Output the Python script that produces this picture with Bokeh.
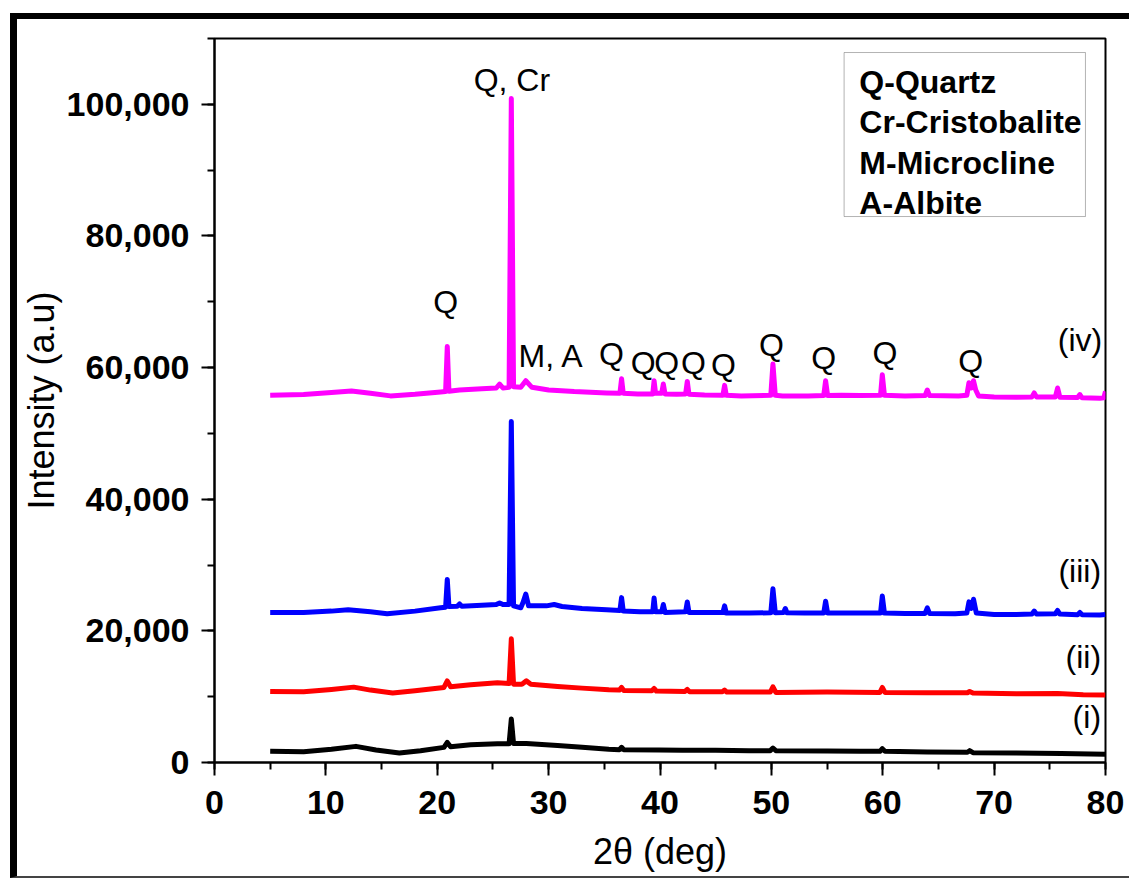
from bokeh.plotting import figure
from bokeh.models import Range1d, SingleIntervalTicker, NumeralTickFormatter, Label, BoxAnnotation
from bokeh.embed import file_html
from bokeh.resources import INLINE

# ---------------- data (2theta in deg, intensity in a.u.) ----------------
x_iv = [5.0, 8.0, 10.5, 12.3, 14.0, 15.8, 18.0, 20.3, 20.75, 20.9, 21.05, 22.0, 24.0, 25.3, 25.6, 25.9,
        26.45, 26.65, 26.85, 27.5, 27.95, 28.5, 30.0, 32.3, 35.2, 36.4, 36.55, 36.7, 38.0, 39.35, 39.47,
        39.6, 40.15, 40.3, 40.45, 41.5, 42.3, 42.45, 42.6, 44.0, 45.65, 45.8, 45.95, 47.3, 49.95, 50.14,
        50.35, 51.0, 53.3, 54.7, 54.87, 55.05, 56.3, 58.0, 59.8, 59.96, 60.15, 62.0, 63.8, 64.0, 64.2,
        66.8, 67.55, 67.74, 67.95, 68.15, 68.35, 68.6, 70.0, 72.0, 73.4, 73.6, 73.8, 75.5, 75.7, 75.9,
        77.5, 77.7, 77.9, 79.5, 79.85, 80.0]
y_iv = [55800, 55900, 56200, 56450, 56100, 55700, 55950, 56300, 56350, 63200, 56400, 56600, 56800, 56900, 57500, 56900,
        57000, 100900, 57100, 57000, 58000, 57000, 56600, 56350, 56150, 56100, 58300, 56100, 56000, 56000, 58000,
        56100, 56100, 57500, 56000, 55950, 56000, 57900, 55950, 55850, 55800, 57300, 55800, 55700, 55800, 60550,
        55800, 55700, 55700, 55750, 58000, 55750, 55800, 55750, 55800, 58900, 55800, 55700, 55750, 56600, 55750,
        55700, 55800, 57700, 56900, 58000, 56600, 55700, 55550, 55500, 55550, 56150, 55550, 55550, 56900, 55500,
        55450, 55900, 55400, 55350, 55400, 56400]

x_iii = [5.0, 8.0, 10.5, 12.0, 14.0, 15.5, 18.0, 20.3, 20.75, 20.9, 21.05, 21.8, 22.0, 22.2, 24.0, 25.3,
         25.6, 25.9, 26.45, 26.65, 26.85, 27.5, 27.7, 27.95, 28.2, 29.8, 30.5, 31.2, 33.0, 35.2, 36.4, 36.55,
         36.7, 38.2, 39.35, 39.47, 39.6, 40.15, 40.3, 40.45, 42.3, 42.45, 42.6, 44.2, 45.65, 45.8, 45.95,
         48.0, 49.95, 50.14, 50.35, 51.1, 51.25, 51.4, 53.0, 54.7, 54.87, 55.05, 57.0, 59.8, 59.96, 60.15,
         62.0, 63.8, 64.0, 64.2, 66.5, 67.55, 67.74, 67.95, 68.15, 68.4, 70.0, 72.0, 73.4, 73.6, 73.8,
         75.5, 75.7, 75.9, 77.5, 77.7, 77.9, 79.5, 80.0]
y_iii = [22800, 22800, 23000, 23200, 22900, 22600, 23000, 23500, 23600, 27800, 23700, 23750, 24100, 23750, 23900, 24000,
         24250, 24000, 24000, 51800, 23800, 23500, 24300, 25600, 23800, 23800, 24000, 23700, 23400, 23200, 23100, 25050,
         23000, 22900, 22900, 25000, 22900, 22900, 24000, 22800, 22900, 24400, 22800, 22800, 22800, 23800, 22700,
         22700, 22750, 26400, 22750, 22800, 23400, 22750, 22700, 22700, 24500, 22700, 22700, 22700, 25300, 22700,
         22650, 22650, 23500, 22650, 22600, 22700, 24400, 23400, 24800, 22700, 22500, 22500, 22550, 23000, 22550,
         22600, 23100, 22550, 22450, 22800, 22450, 22400, 22500]

x_ii = [5.0, 8.0, 10.5, 12.5, 14.0, 16.0, 18.0, 20.6, 20.9, 21.2, 23.0, 25.4, 26.45, 26.65, 26.85, 27.6,
        28.0, 28.4, 30.8, 33.0, 35.4, 36.35, 36.55, 36.75, 39.27, 39.47, 39.67, 42.25, 42.45, 42.65, 45.6,
        45.8, 46.0, 49.9, 50.14, 50.4, 55.0, 59.75, 59.96, 60.2, 64.0, 67.6, 67.8, 68.1, 72.0, 75.7, 78.0, 80.0]
y_ii = [10800, 10750, 11100, 11450, 11000, 10550, 10900, 11400, 12400, 11500, 11800, 12100, 12000, 18800, 11900, 11900,
        12400, 11900, 11550, 11300, 11050, 11000, 11400, 10950, 10900, 11250, 10850, 10800, 11100, 10750, 10750,
        11000, 10700, 10700, 11500, 10650, 10700, 10650, 11400, 10650, 10600, 10600, 10800, 10550, 10450, 10500, 10300, 10250]

x_i = [5.0, 8.0, 10.5, 12.7, 14.5, 16.6, 18.5, 20.6, 20.9, 21.2, 23.0, 25.4, 26.45, 26.65, 26.85, 28.0,
       30.8, 33.0, 35.4, 36.35, 36.55, 36.75, 39.9, 42.0, 45.0, 48.0, 49.9, 50.14, 50.4, 55.0, 58.0,
       59.75, 59.96, 60.2, 64.0, 67.6, 67.8, 68.1, 72.0, 76.0, 80.0]
y_i = [1700, 1650, 2000, 2450, 1900, 1450, 1800, 2300, 3050, 2400, 2700, 2850, 2850, 6600, 2900, 2900,
       2600, 2300, 2000, 1950, 2300, 1950, 1900, 1850, 1850, 1800, 1800, 2200, 1800, 1750, 1700,
       1700, 2100, 1700, 1600, 1550, 1800, 1500, 1450, 1350, 1250]

series_names = ["(i)", "(ii)", "(iii)", "(iv)"]
series_colors = ["#000000", "#ff0000", "#0000ff", "#ff00ff"]

# peak annotations: text, 2theta, intensity (text baseline)
peak_texts = ["Q, Cr", "Q", "M, A", "Q", "Q", "Q", "Q", "Q", "Q", "Q", "Q", "Q"]
peak_x = [26.7, 20.75, 27.3, 35.65, 38.5, 40.6, 43.0, 45.7, 50.0, 54.7, 60.2, 67.9]
peak_y = [103700, 70000, 61800, 62100, 60700, 60700, 60700, 60400, 63400, 61500, 62200, 61000]

# series tags at the right side: 2theta of right edge, intensity (text baseline)
tag_x = [79.6, 79.6, 79.6, 79.7]
tag_y = [6900, 16100, 29100, 64200]

legend_items = ["Q-Quartz", "Cr-Cristobalite", "M-Microcline", "A-Albite"]

# ---------------- figure ----------------
FONT = "Liberation Sans"
p = figure(width=1119, height=865, output_backend="svg", toolbar_location=None,
           x_range=Range1d(0, 80), y_range=Range1d(0, 110000),
           min_border_left=195, min_border_right=31, min_border_top=19, min_border_bottom=122)
p.styles = {"margin-left": "10px", "margin-top": "13px",
            "border-left": "7px solid black", "border-top": "6px solid black",
            "border-bottom": "2px solid #444444"}
p.background_fill_color = "white"
p.border_fill_color = "white"
p.grid.visible = False
p.outline_line_color = "black"
p.outline_line_width = 2

p.xaxis.ticker = SingleIntervalTicker(interval=10, num_minor_ticks=2)
p.yaxis.ticker = SingleIntervalTicker(interval=20000, num_minor_ticks=2)
p.yaxis.formatter = NumeralTickFormatter(format="0,0")
for ax in (p.xaxis, p.yaxis):
    ax.axis_line_width = 2
    ax.major_tick_line_width = 2
    ax.minor_tick_line_width = 2
    ax.major_tick_in = 0
    ax.major_tick_out = 13
    ax.minor_tick_in = 0
    ax.minor_tick_out = 7
    ax.major_label_text_font = FONT
    ax.major_label_text_font_style = "bold"
    ax.major_label_text_font_size = "34px"
    ax.major_label_text_color = "black"
    ax.major_label_text_line_height = 1.0
    ax.axis_label_text_font = FONT
    ax.axis_label_text_font_style = "normal"
    ax.axis_label_text_font_size = "36px"
    ax.axis_label_text_color = "black"
    ax.axis_label_text_line_height = 1.0
p.xaxis.axis_label = "2θ (deg)"
p.yaxis.axis_label = "Intensity (a.u)"
p.xaxis.major_label_standoff = 15
p.yaxis.major_label_standoff = 12
p.xaxis.axis_label_standoff = 14
p.yaxis.axis_label_standoff = 2

xs = [x_i, x_ii, x_iii, x_iv]
ys = [y_i, y_ii, y_iii, y_iv]
for xv, yv, c in zip(xs, ys, series_colors):
    p.line(xv, yv, line_color=c, line_width=5, line_join="round")

for t, xv, yv in zip(peak_texts, peak_x, peak_y):
    p.add_layout(Label(x=xv, y=yv, text=t, text_font=FONT, text_font_size="32px",
                       text_align="left" if t == "M, A" else "center",
                       text_baseline="alphabetic", text_color="black"))

for t, xv, yv in zip(series_names, tag_x, tag_y):
    p.add_layout(Label(x=xv, y=yv, text=t, text_font=FONT, text_font_size="32px",
                       text_align="right", text_baseline="alphabetic", text_color="black"))

# legend box
p.add_layout(BoxAnnotation(left=56.53, right=78.2, top=107870, bottom=82950,
                           fill_alpha=0, line_color="black", line_width=1))
for k, t in enumerate(legend_items):
    p.add_layout(Label(x=57.9, y=103400 - k * 6120, text=t, text_font=FONT, text_font_size="32px",
                       text_font_style="bold", text_align="left", text_baseline="alphabetic",
                       text_color="black"))

open("out.html", "w").write(file_html(p, INLINE))
